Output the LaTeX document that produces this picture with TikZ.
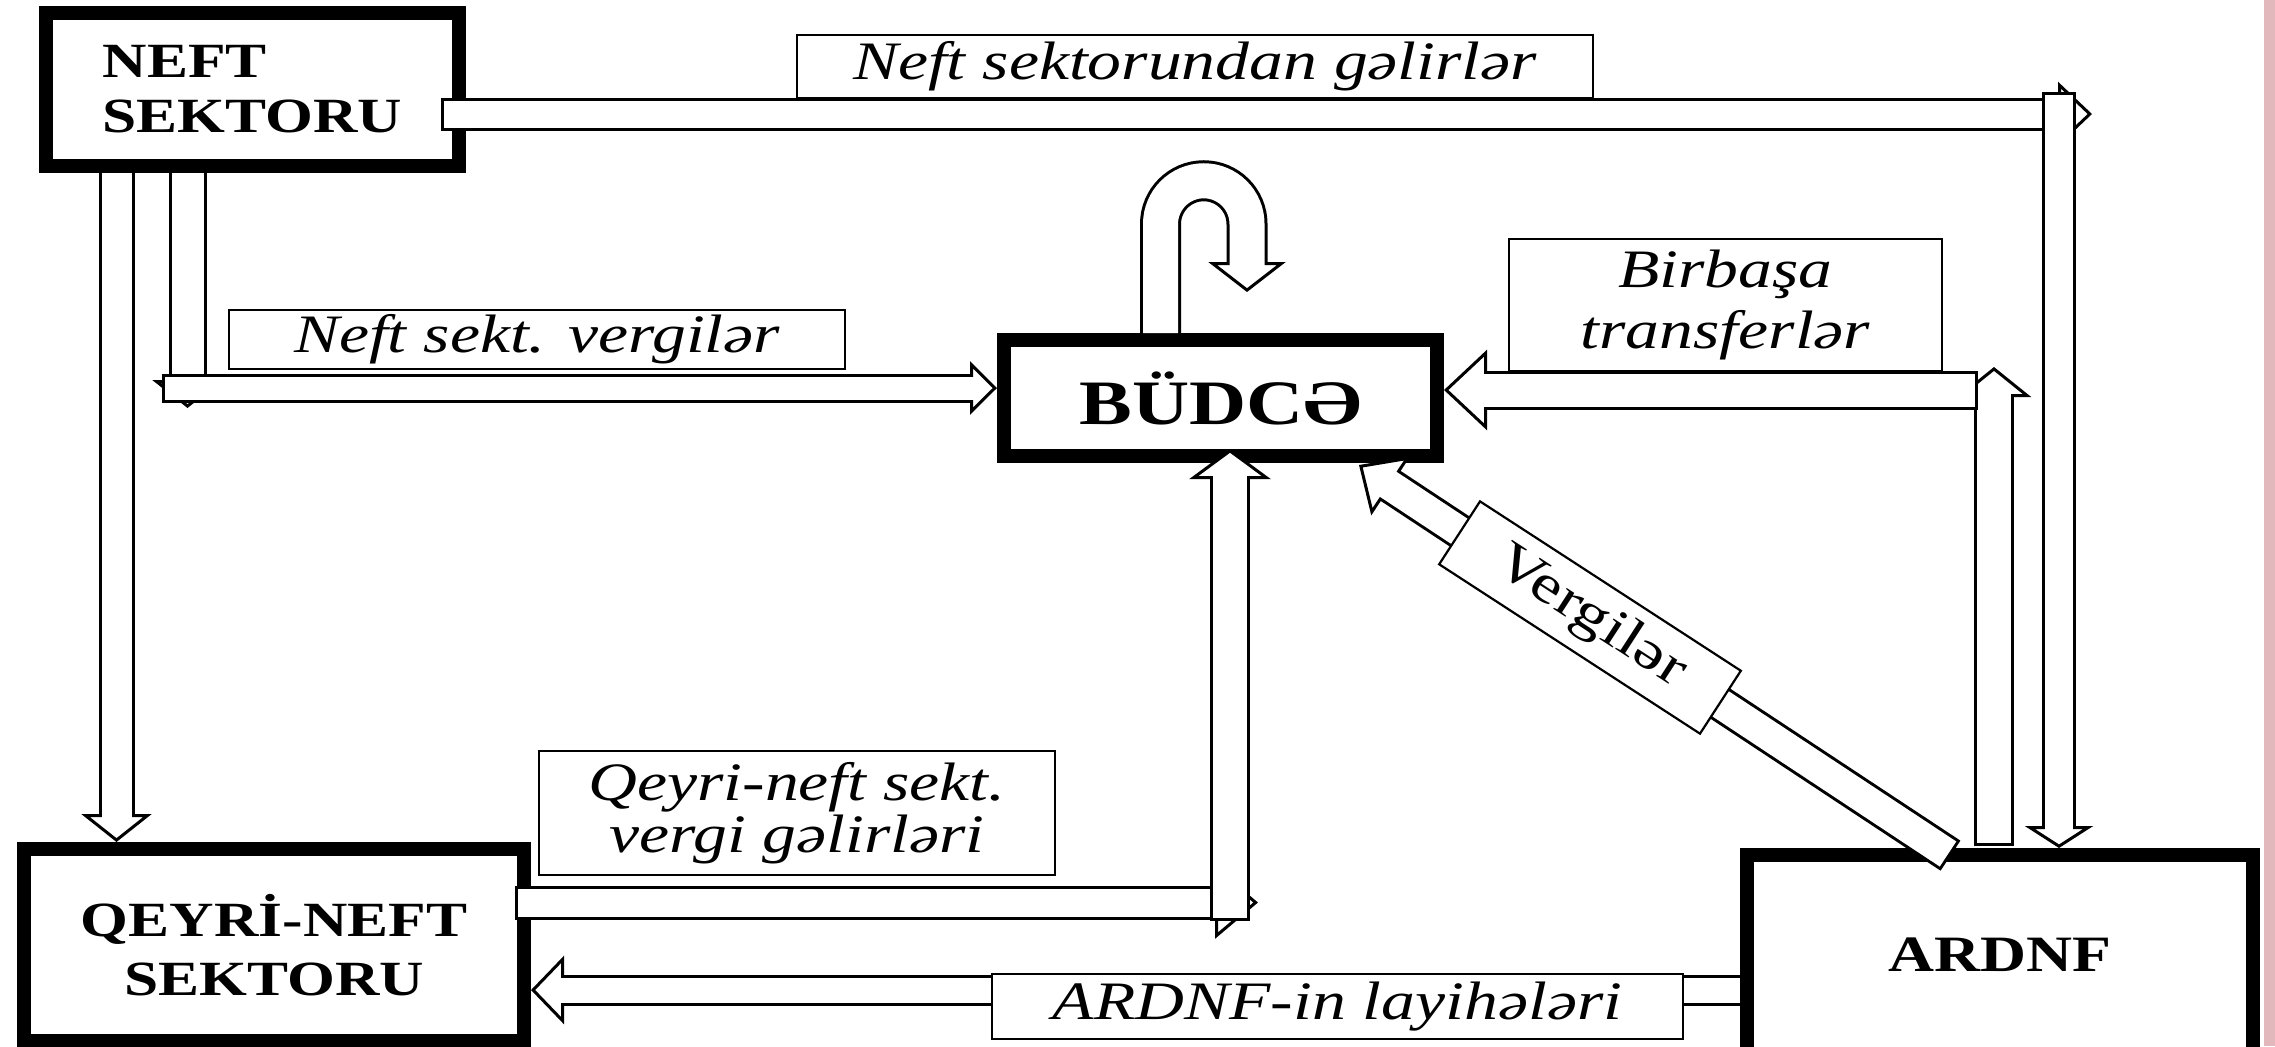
\documentclass[tikz,border=0pt]{standalone}
\usepackage{fontspec}
\setmainfont{Liberation Serif}[FakeStretch=1.25]
\usetikzlibrary{arrows.meta}
\definecolor{rose}{RGB}{226,184,189}

\begin{document}
\begin{tikzpicture}[x=0.1mm, y=-0.1mm,
  box/.style={draw, line width=1.4mm, fill=white, inner sep=0pt},
  lbl/.style={draw, line width=0.22mm, fill=white, inner sep=0pt, font=\fontsize{15.4}{17.4}\selectfont\itshape},
  flow/.style n args={3}{draw=white, line width=#1-0.3mm, shorten >=#3-0.6mm,
    preaction={draw=black, line width=#1+0.3mm, shorten >=0pt, shorten <=-0.3mm,
      arrows={-Triangle[width=#2, length=#3, fill=white, line width'=0.3mm]}}}]
\useasboundingbox[fill=white] (0,0) rectangle (2275,1046);
\fill[rose] (2264,0) rectangle (2275,1046);

\node[box, minimum width=41.3mm, minimum height=15.3mm, align=left, font=\fontsize{14}{15.6}\selectfont\bfseries] (neft) at (252.5,89.5) {NEFT\\SEKTORU};
\node[box, minimum width=43.3mm, minimum height=11.6mm, font=\fontsize{18}{20}\selectfont\bfseries] (budce) at (1220.5,398) {BÜDCƏ};
\node[box, minimum width=50mm, minimum height=19.2mm, align=center, font=\fontsize{14}{16.8}\selectfont\bfseries] (qeyri) at (274,945) {QEYRİ-NEFT\\SEKTORU};
\node[box, minimum width=50.6mm, minimum height=19.9mm, font=\fontsize{14.5}{16}\selectfont\bfseries] (ardnf) at (2000,954.5) {ARDNF};

\coordinate (a1) at (116.5,173);
\coordinate (a2) at (187.5,173);
\coordinate (a2e) at (187.5,408);
\coordinate (a3) at (165,388);
\coordinate (t1) at (444,114);
\coordinate (t1e) at (2092,114);
\coordinate (t2) at (2059,95);
\coordinate (b1) at (1994,843);
\coordinate (b1e) at (1994,367);
\coordinate (b2) at (1975,390);
\coordinate (q1) at (518,902.5);
\coordinate (q1e) at (1258,902.5);
\coordinate (q2) at (1230,918);
\coordinate (q2e) at (1230,449);
\coordinate (v1) at (1948,854);
\coordinate (v1e) at (1359,465);
\coordinate (c1) at (1740,990);
\coordinate (lp) at (1160.5,333);

\draw[flow={3.3mm}{7mm}{2.8mm}] (a1) -- (a1 |- qeyri.north);
\draw[flow={3.5mm}{7mm}{2.8mm}] (a2) -- (a2e);
\draw[flow={2.6mm}{5.3mm}{2.7mm}] (a3) -- (a3 -| budce.west);
\draw[flow={3mm}{6.4mm}{3.4mm}] (t1) -- (t1e);
\draw[flow={3.1mm}{6.8mm}{2.2mm}] (t2) -- (t2 |- ardnf.north);
\draw[flow={3.7mm}{7.4mm}{3mm}] (b1) -- (b1e);
\draw[flow={3.6mm}{8mm}{4.3mm}] (b2) -- (b2 -| budce.east);
\draw[flow={3.1mm}{7.2mm}{4.3mm}] (q1) -- (q1e);
\draw[flow={3.7mm}{8.1mm}{3mm}] (q2) -- (q2e);
\draw[flow={3.3mm}{7mm}{3.8mm}] (v1) -- (v1e);
\draw[flow={2.8mm}{6.8mm}{3.3mm}] (c1) -- (c1 -| qeyri.east);
\draw[flow={3.8mm}{7.7mm}{3mm}] (lp) -- ++(0,-109) arc[start angle=180, end angle=360, radius=43.25] -- ++(0,68); % loop

\node[lbl, minimum width=79.6mm, minimum height=6.3mm] (lgelir) at (1195,66.5) {Neft sektorundan gəlirlər};
\node[lbl, minimum width=61.6mm, minimum height=5.9mm] (lvergi) at (537,339.5) {Neft sekt. vergilər};
\node[lbl, minimum width=43.3mm, minimum height=13.2mm, align=center] (lbirbasa) at (1725.5,305) {Birbaşa\\transferlər};
\node[lbl, minimum width=51.6mm, minimum height=12.4mm, align=center, font=\fontsize{15.4}{14.8}\selectfont\itshape] (lqeyri) at (797,813) {Qeyri-neft sekt.\\vergi gəlirləri};
\node[lbl, minimum width=69.1mm, minimum height=6.5mm] (llayihe) at (1337.5,1006.5) {ARDNF-in layihələri};
\node[lbl, rotate=-33, minimum width=31.1mm, minimum height=7.5mm, font=\fontsize{15.4}{17}\selectfont] (lvergiler) at (1590,617.5) {Vergilər};
\end{tikzpicture}
\end{document}
